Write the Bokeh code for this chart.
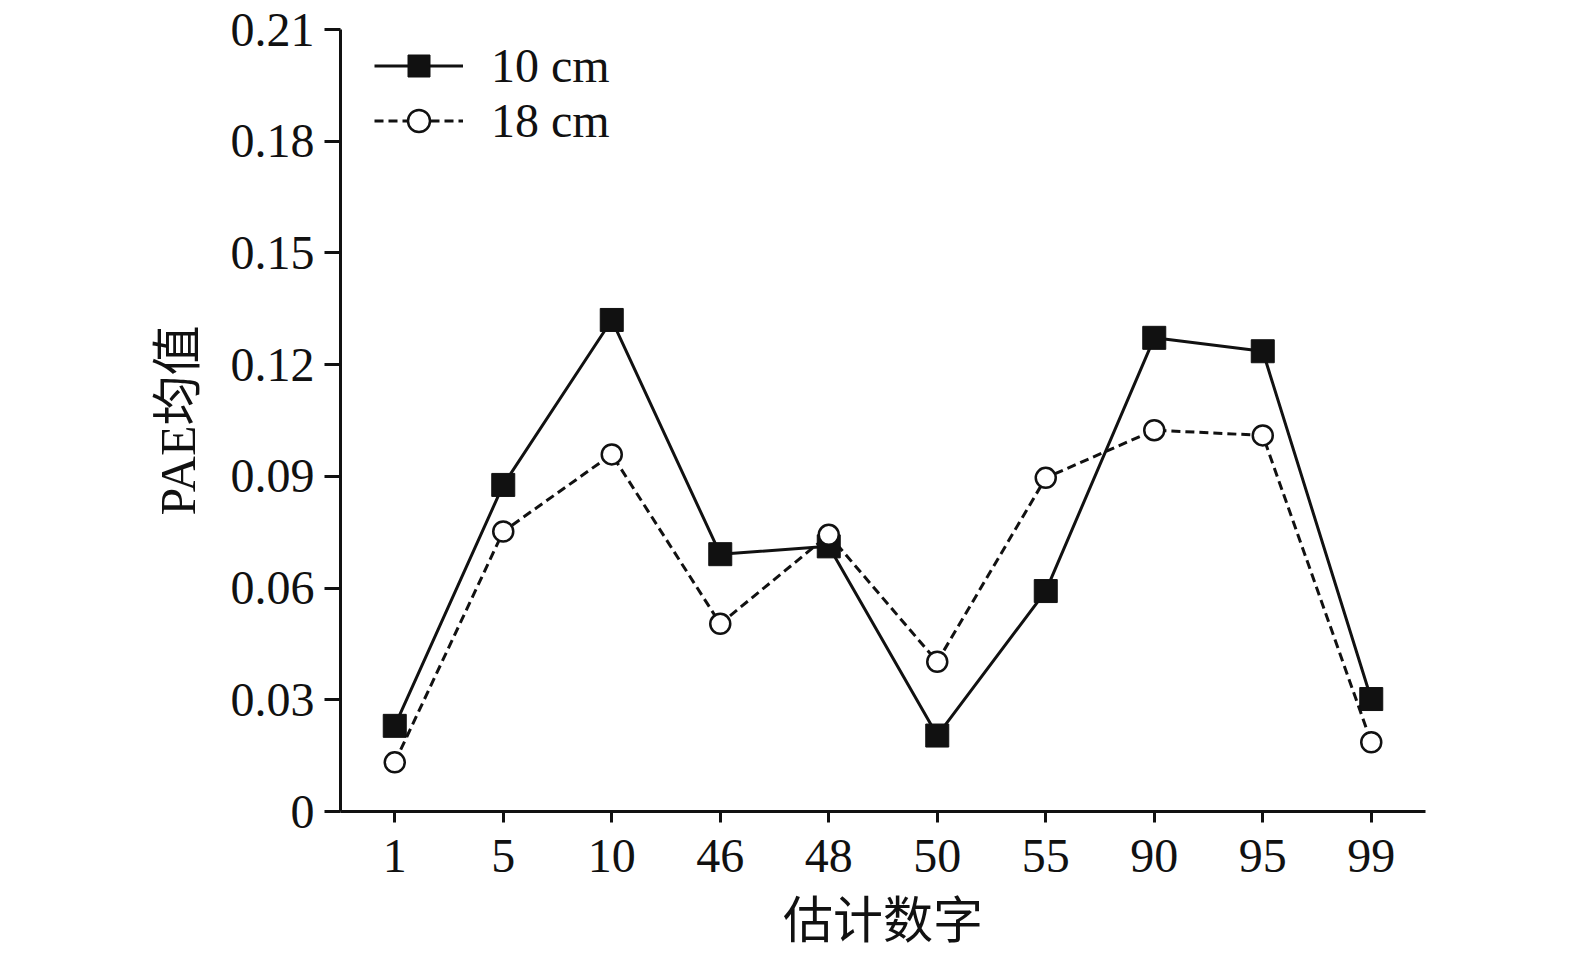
from bokeh.plotting import figure
from bokeh.models import FactorRange, Range1d, FixedTicker, Legend, LegendItem, PrintfTickFormatter
from bokeh.embed import file_html
from bokeh.resources import INLINE

categories = ["1", "5", "10", "46", "48", "50", "55", "90", "95", "99"]
pae_10cm = [0.0230, 0.0877, 0.1320, 0.0691, 0.0712, 0.0204, 0.0592, 0.1272, 0.1236, 0.0302]
pae_18cm = [0.0132, 0.0752, 0.0959, 0.0504, 0.0743, 0.0402, 0.0896, 0.1024, 0.1010, 0.0186]
ytick_labels = ["0", "0.03", "0.06", "0.09", "0.12", "0.15", "0.18", "0.21"]
series_names = ["10 cm", "18 cm"]
x_title = "估计数字"
y_title = "PAE均值"

SERIF = "Liberation Serif, Noto Sans CJK SC"
INK = "#111111"

p = figure(
    x_range=FactorRange(factors=categories, range_padding=0),
    y_range=Range1d(0, 0.21),
    frame_width=1085, frame_height=782,
    min_border_left=340, min_border_top=29, min_border_right=100, min_border_bottom=134,
    output_backend="svg", toolbar_location=None,
)
p.outline_line_color = None
p.xgrid.visible = False
p.ygrid.visible = False
p.background_fill_color = "white"

ticks = [float(s) for s in ytick_labels]
p.yaxis.ticker = FixedTicker(ticks=ticks)
p.yaxis.formatter = PrintfTickFormatter(format="%.2f")
p.yaxis.major_label_overrides = {float(s): s for s in ytick_labels}

for ax in (p.xaxis[0], p.yaxis[0]):
    ax.axis_line_color = INK
    ax.axis_line_width = 3
    ax.major_tick_line_color = INK
    ax.major_tick_line_width = 3
    ax.minor_tick_line_color = None
    ax.major_tick_in = 0
    ax.major_label_text_font = SERIF
    ax.major_label_text_font_size = "48px"
    ax.major_label_text_color = INK
    ax.axis_label_text_font = SERIF
    ax.axis_label_text_font_size = "50px"
    ax.axis_label_text_font_style = "normal"
    ax.axis_label_text_color = INK

p.xaxis.major_tick_out = 11
p.yaxis.major_tick_out = 16
p.xaxis.major_label_standoff = 17
p.yaxis.major_label_standoff = 10
p.xaxis.axis_label = x_title
p.yaxis.axis_label = y_title
p.xaxis.axis_label_standoff = 18
p.yaxis.axis_label_standoff = 22

l1 = p.line(categories, pae_10cm, line_color=INK, line_width=3)
l2 = p.line(categories, pae_18cm, line_color=INK, line_width=3, line_dash="9 5")
m1 = p.scatter(categories, pae_10cm, marker="square", size=23, fill_color=INK, line_color=INK, line_width=1)
m2 = p.scatter(categories, pae_18cm, marker="circle", size=20, fill_color="white", line_color=INK, line_width=2.5)

legend = Legend(
    items=[LegendItem(label=series_names[0], renderers=[l1, m1]),
           LegendItem(label=series_names[1], renderers=[l2, m2])],
    location=(34, 663),
    glyph_width=89, glyph_height=55, label_height=55, label_standoff=28,
    label_text_font=SERIF, label_text_font_size="48px", label_text_color=INK,
    spacing=0, padding=0, margin=0,
    border_line_color=None, background_fill_alpha=0,
)
p.add_layout(legend, "center")

open("out.html", "w").write(file_html(p, INLINE))
